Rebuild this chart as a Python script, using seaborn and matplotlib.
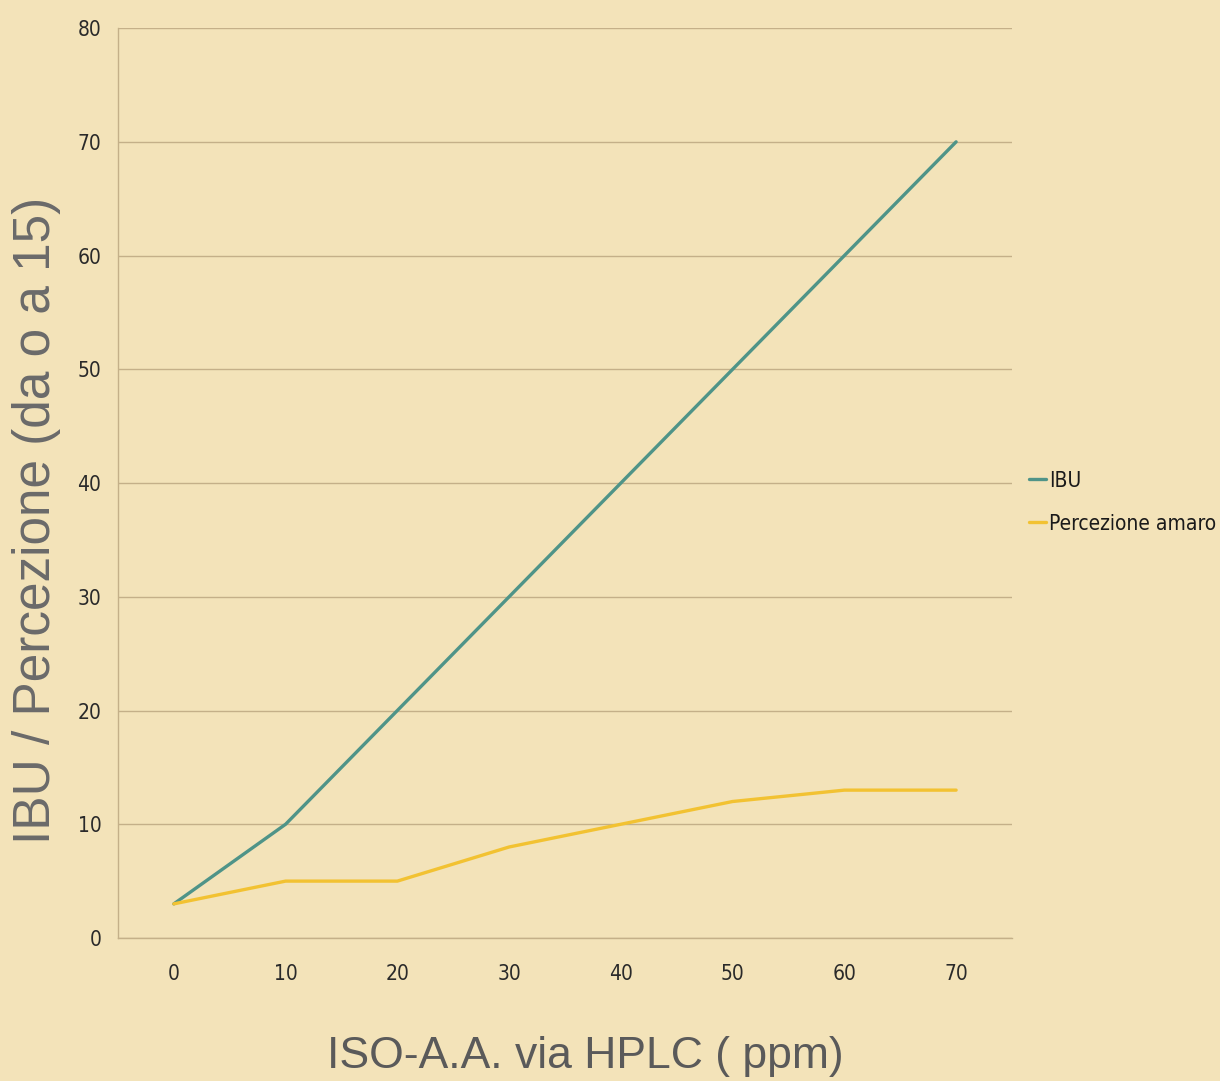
import matplotlib
matplotlib.use("Agg")
import matplotlib.pyplot as plt
import seaborn as sns
import pandas as pd
import numpy as np

# Concentration of iso-alpha acids (ppm) and measured values
iso_ppm = [0, 10, 20, 30, 40, 50, 60, 70]
ibu = [3, 10, 20, 30, 40, 50, 60, 70]
percezione = [3, 5, 5, 8, 10, 12, 13, 13]

series_names = ["IBU", "Percezione amaro"]
series_colors = ["#4f9488", "#f2c232"]
y_ticks = [0, 10, 20, 30, 40, 50, 60, 70, 80]

bg = "#f3e3b9"
grid_c = "#c4b089"
sns.set_theme(style="white", rc={"axes.facecolor": bg, "figure.facecolor": bg})

# Narrow face for ticks and legend
plt.rcParams["font.family"] = ["DejaVu Sans"]
plt.rcParams["font.stretch"] = "condensed"
label_family = ["Liberation Sans", "DejaVu Sans"]

df = pd.DataFrame({
    "pos": list(range(len(iso_ppm))) * 2,
    "value": ibu + percezione,
    "serie": [series_names[0]] * len(iso_ppm) + [series_names[1]] * len(iso_ppm),
})

fig = plt.figure(figsize=(12.2, 10.81), dpi=100)
ax = fig.add_axes([0.0967, 0.1323, 0.7328, 0.8417])

sns.lineplot(data=df, x="pos", y="value", hue="serie", palette=series_colors,
             hue_order=series_names, linewidth=2.4, ax=ax, legend=True)

n = len(iso_ppm)
ax.set_xlim(-0.5, n - 0.5)
ax.set_ylim(0, 80)
ax.set_yticks(y_ticks)
ax.set_yticklabels([str(t) for t in y_ticks])
ax.set_xticks(range(n))
ax.set_xticklabels([str(v) for v in iso_ppm])
ax.set_xticks(np.arange(-0.5, n, 1.0), minor=True)

ax.yaxis.grid(True, color=grid_c, linewidth=1.0)
ax.xaxis.grid(False)
for s in ["top", "right"]:
    ax.spines[s].set_visible(False)
for s in ["left", "bottom"]:
    ax.spines[s].set_color(grid_c)
    ax.spines[s].set_linewidth(1.0)

ax.tick_params(axis="x", which="major", length=0, pad=19, labelsize=15, labelcolor="#2a2a2a")
ax.tick_params(axis="x", which="minor", length=9, width=1.0, color=grid_c, direction="out")
ax.tick_params(axis="y", which="major", length=0, pad=12, labelsize=15, labelcolor="#2a2a2a")
ax.set_xlabel("")
ax.set_ylabel("")

fig.text(0.480, 0.012, "ISO-A.A. via HPLC ( ppm)", fontsize=32, color="#5a5a5a",
         family=label_family, stretch="normal", ha="center", va="baseline")
fig.text(37 / 1220, 1 - 520 / 1081, "IBU / Percezione (da o a 15)", fontsize=37,
         color="#6a6a6a", family=label_family, stretch="normal",
         rotation=90, ha="center", va="center")

handles, labels = ax.get_legend_handles_labels()
leg = ax.legend(handles, labels, loc="center left", bbox_to_anchor=(0.998, 0.479),
                frameon=False, fontsize=15, handlelength=0.8, handletextpad=0.15,
                labelspacing=1.1)
for t in leg.get_texts():
    t.set_color("#1a1a1a")

fig.savefig("out.png", dpi=100, facecolor=bg)
